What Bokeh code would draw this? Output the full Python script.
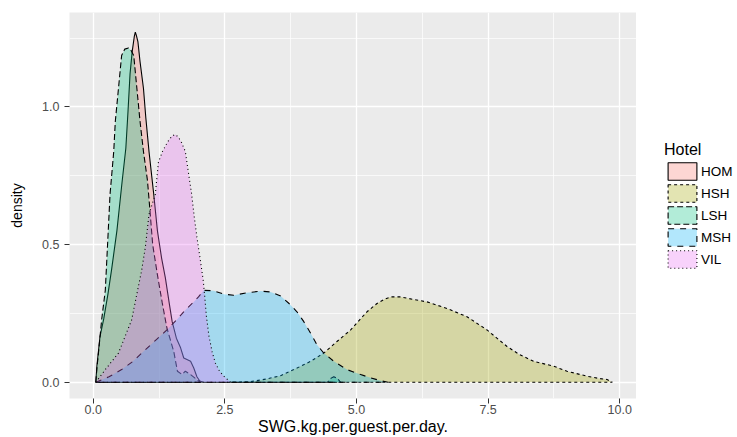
from bokeh.plotting import figure
from bokeh.layouts import row
from bokeh.models import Range1d, FixedTicker, Legend, LegendItem
from bokeh.embed import file_html
from bokeh.resources import INLINE

hotels = ["HOM", "HSH", "LSH", "MSH", "VIL"]
fill_colors = ["#F8766D", "#A3A500", "#00BF7D", "#00B0F6", "#E76BF3"]
line_dashes = ["solid", "3 3", "6 3", "6 6", "1 3"]

hom_x = [0.05, 0.07, 0.13, 0.20, 0.28, 0.35, 0.45, 0.55, 0.62, 0.66, 0.70, 0.74, 0.78, 0.80,
         0.82, 0.85, 0.89, 0.955, 1.00, 1.06, 1.15, 1.22, 1.30, 1.37, 1.45, 1.50, 1.58, 1.66,
         1.72, 1.85, 1.91, 1.97, 2.04]
hom_y = [0.0, 0.058, 0.167, 0.23, 0.32, 0.41, 0.55, 0.73, 0.85, 0.98, 1.12, 1.20, 1.255, 1.272,
         1.26, 1.236, 1.164, 1.067, 0.96, 0.838, 0.683, 0.55, 0.45, 0.38, 0.28, 0.22, 0.16, 0.125,
         0.088, 0.076, 0.052, 0.02, 0.0]

hsh_x = [2.54, 2.99, 3.30, 3.56, 3.81, 4.13, 4.38, 4.63, 4.89, 5.20, 5.39, 5.55, 5.65, 5.84,
         6.10, 6.34, 6.72, 7.10, 7.48, 7.86, 8.10, 8.37, 8.75, 9.00, 9.38, 9.60, 9.76, 9.86]
hsh_y = [0.0, 0.002, 0.012, 0.024, 0.046, 0.076, 0.106, 0.148, 0.19, 0.256, 0.286, 0.303, 0.31,
         0.31, 0.30, 0.292, 0.268, 0.238, 0.19, 0.13, 0.10, 0.076, 0.058, 0.04, 0.022, 0.014,
         0.01, 0.0]

lsh_x = [0.05, 0.07, 0.10, 0.16, 0.23, 0.28, 0.32, 0.39, 0.42, 0.48, 0.54, 0.60, 0.67, 0.72,
         0.77, 0.83, 0.89, 0.955, 1.03, 1.08, 1.13, 1.22, 1.31, 1.40, 1.53, 1.60, 1.69, 1.75,
         1.85, 2.00, 2.10, 4.45, 4.52, 4.57, 4.63, 4.70]
lsh_y = [0.0, 0.05, 0.106, 0.226, 0.334, 0.527, 0.683, 0.838, 0.947, 1.067, 1.187, 1.21, 1.214,
         1.205, 1.187, 1.067, 0.947, 0.838, 0.734, 0.62, 0.50, 0.39, 0.29, 0.197, 0.112, 0.04,
         0.028, 0.04, 0.028, 0.005, 0.0, 0.0, 0.015, 0.02, 0.015, 0.0]

msh_x = [0.05, 0.30, 0.54, 0.75, 0.99, 1.20, 1.40, 1.60, 1.75, 1.90, 2.00, 2.10, 2.29, 2.48,
         2.67, 2.92, 3.18, 3.37, 3.56, 3.72, 3.87, 4.00, 4.13, 4.25, 4.38, 4.57, 4.82, 5.08,
         5.27, 5.45, 5.60]
msh_y = [0.0, 0.02, 0.046, 0.075, 0.118, 0.155, 0.19, 0.23, 0.262, 0.29, 0.31, 0.334, 0.332,
         0.32, 0.316, 0.325, 0.331, 0.328, 0.313, 0.286, 0.256, 0.22, 0.178, 0.136, 0.106,
         0.076, 0.046, 0.028, 0.016, 0.006, 0.0]

vil_x = [0.05, 0.23, 0.48, 0.73, 0.92, 0.99, 1.06, 1.18, 1.24, 1.32, 1.42, 1.50, 1.56, 1.62,
         1.68, 1.75, 1.81, 1.87, 1.92, 1.97, 2.03, 2.09, 2.11, 2.15, 2.20, 2.26, 2.32, 2.40,
         2.48, 2.61]
vil_y = [0.0, 0.046, 0.106, 0.226, 0.406, 0.49, 0.61, 0.683, 0.80, 0.84, 0.875, 0.895, 0.90,
         0.89, 0.87, 0.838, 0.76, 0.683, 0.60, 0.527, 0.45, 0.37, 0.33, 0.24, 0.166, 0.11, 0.07,
         0.04, 0.022, 0.0]

series_x = [hom_x, hsh_x, lsh_x, msh_x, vil_x]
series_y = [hom_y, hsh_y, lsh_y, msh_y, vil_y]

x_ticks = [0, 2.5, 5, 7.5, 10]
x_tick_labels = ["0.0", "2.5", "5.0", "7.5", "10.0"]
x_minor = [1.25, 3.75, 6.25, 8.75]
y_ticks = [0, 0.5, 1.0]
y_tick_labels = ["0.0", "0.5", "1.0"]
y_minor = [0.25, 0.75, 1.25]

FONT = "Liberation Sans"

p = figure(width=636, height=437, output_backend="svg", toolbar_location=None,
           x_range=Range1d(-0.450, 10.319), y_range=Range1d(-0.059, 1.343),
           min_border_left=69, min_border_right=0, min_border_top=12, min_border_bottom=38)
p.background_fill_color = "#EBEBEB"
p.border_fill_color = "white"
p.outline_line_color = None

xt = FixedTicker(ticks=x_ticks, minor_ticks=x_minor)
yt = FixedTicker(ticks=y_ticks, minor_ticks=y_minor)
p.xaxis.ticker = xt
p.yaxis.ticker = yt
p.xgrid.ticker = xt
p.ygrid.ticker = yt
p.xaxis.major_label_overrides = {t: l for t, l in zip(x_ticks, x_tick_labels)}
p.yaxis.major_label_overrides = {t: l for t, l in zip(y_ticks, y_tick_labels)}

for g in (p.xgrid, p.ygrid):
    g.grid_line_color = "white"
    g.grid_line_width = 1.3
    g.minor_grid_line_color = "white"
    g.minor_grid_line_width = 0.7

for ax in (p.xaxis, p.yaxis):
    ax.axis_line_color = None
    ax.major_tick_line_color = "#333333"
    ax.major_tick_out = 5
    ax.major_tick_in = 0
    ax.minor_tick_line_color = None
    ax.major_label_text_font = FONT
    ax.major_label_text_color = "#4D4D4D"
    ax.major_label_text_font_size = "12.5px"
    ax.axis_label_text_font = FONT
    ax.axis_label_text_font_style = "normal"
    ax.axis_label_text_color = "black"

p.xaxis.axis_label = "SWG.kg.per.guest.per.day."
p.xaxis.axis_label_text_font_size = "16px"
p.xaxis.major_label_standoff = 1
p.xaxis.axis_label_standoff = 1
p.yaxis.axis_label = "density"
p.yaxis.axis_label_text_font_size = "14px"
p.yaxis.major_label_standoff = 5
p.yaxis.axis_label_standoff = 14

for name, col, dash, xs, ys in zip(hotels, fill_colors, line_dashes, series_x, series_y):
    p.patch(xs, ys, fill_color=col, fill_alpha=0.3, line_color="black",
            line_width=1.1, line_dash=dash)

# legend panel (its patches lie outside its view; only the legend keys show)
pl = figure(width=101, height=437, output_backend="svg", toolbar_location=None,
            x_range=Range1d(-30, -20), y_range=Range1d(-30, -20), min_border=0)
pl.axis.visible = False
pl.grid.visible = False
pl.outline_line_color = None
pl.background_fill_color = "white"
pl.border_fill_color = "white"

items = []
for name, col, dash, xs, ys in zip(hotels, fill_colors, line_dashes, series_x, series_y):
    r = pl.patch(xs, ys, fill_color=col, fill_alpha=0.3, line_color="black",
                 line_width=1.1, line_dash=dash)
    items.append(LegendItem(label=name, renderers=[r]))

legend = Legend(items=items, location=(28, 128), title="Hotel",
                title_text_font=FONT, title_text_font_size="16px", title_text_color="black",
                title_text_font_style="normal", title_standoff=1,
                label_text_font=FONT, label_text_font_size="13.5px", label_text_color="black",
                glyph_width=36, glyph_height=22, label_height=22, label_standoff=1,
                spacing=0, padding=0, margin=0,
                border_line_color=None, background_fill_alpha=0)
pl.add_layout(legend, "center")

layout = row(p, pl)
open("out.html", "w").write(file_html(layout, INLINE))
